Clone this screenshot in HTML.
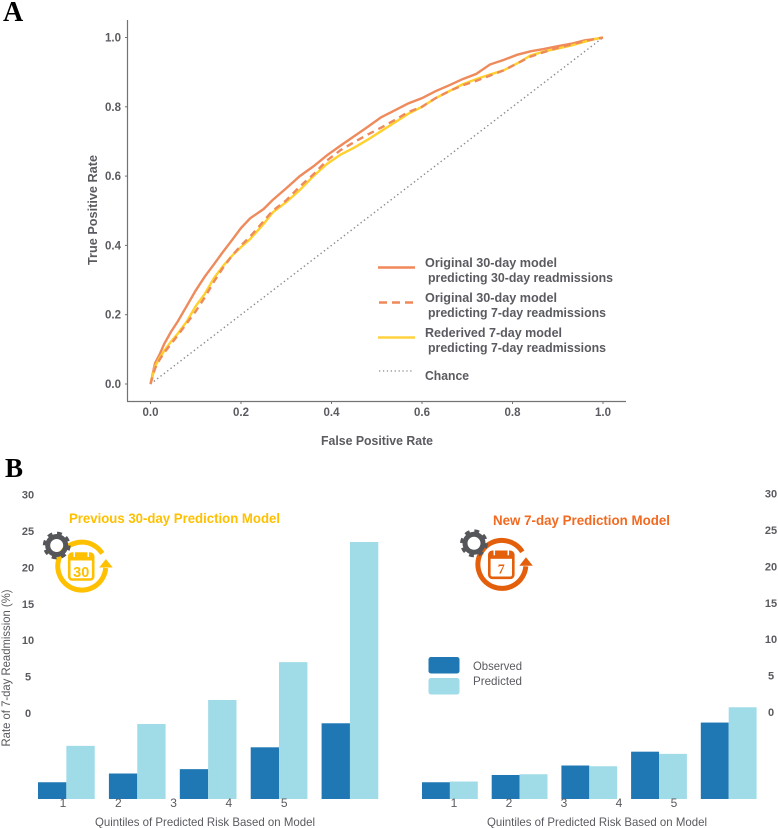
<!DOCTYPE html>
<html lang="en">
<head>
<meta charset="utf-8">
<title>ROC curves and calibration by risk quintile</title>
<style>
html,body{margin:0;padding:0;background:#fff;width:778px;height:828px;overflow:hidden}
svg{display:block}
text{font-family:"Liberation Sans",sans-serif;fill:#5a5a60}
.panel{font-family:"Liberation Serif",serif;font-weight:bold;fill:#000}
.ax{font-weight:bold;font-size:12.5px}
.leg{font-weight:bold;font-size:13px}
.tick{font-weight:bold;font-size:11.5px}
.bt{font-size:11px;font-weight:bold}
</style>
</head>
<body>
<svg id="fig" xmlns="http://www.w3.org/2000/svg" width="778" height="828" viewBox="0 0 778 828">
  <text class="panel" x="3" y="21" font-size="28">A</text>
  <text class="panel" x="5" y="477" font-size="27">B</text>

  <g id="roc">
    <line x1="127.5" y1="20" x2="127.5" y2="401.5" stroke="#737373" stroke-width="1.2"/>
    <line x1="127" y1="401.5" x2="626" y2="401.5" stroke="#737373" stroke-width="1.2"/>
  </g>
  <text class="ax" transform="translate(97,210) rotate(-90)" text-anchor="middle" textLength="110" lengthAdjust="spacingAndGlyphs">True Positive Rate</text>
  <text class="ax" x="321" y="445" textLength="112" lengthAdjust="spacingAndGlyphs">False Positive Rate</text>

  <g>
    <line x1="378" y1="267.5" x2="415" y2="267.5" stroke="#f0885a" stroke-width="2.6"/>
    <text class="leg"><tspan x="425" y="267" textLength="132" lengthAdjust="spacingAndGlyphs">Original 30-day model</tspan><tspan x="428" y="282" textLength="185" lengthAdjust="spacingAndGlyphs">predicting 30-day readmissions</tspan></text>
    <line x1="379" y1="302.5" x2="413" y2="302.5" stroke="#f0885a" stroke-width="2.6" stroke-dasharray="8 5"/>
    <text class="leg"><tspan x="425" y="302" textLength="132" lengthAdjust="spacingAndGlyphs">Original 30-day model</tspan><tspan x="428" y="317" textLength="178" lengthAdjust="spacingAndGlyphs">predicting 7-day readmissions</tspan></text>
    <line x1="378" y1="337.5" x2="415" y2="337.5" stroke="#ffd23f" stroke-width="2.6"/>
    <text class="leg"><tspan x="425" y="337" textLength="137" lengthAdjust="spacingAndGlyphs">Rederived 7-day model</tspan><tspan x="428" y="352" textLength="178" lengthAdjust="spacingAndGlyphs">predicting 7-day readmissions</tspan></text>
    <line x1="379" y1="371" x2="414" y2="371" stroke="#8a8a8a" stroke-width="1.3" stroke-dasharray="1.3 2.6"/>
    <text class="leg" x="425" y="380" textLength="44" lengthAdjust="spacingAndGlyphs">Chance</text>
  </g>

  <g id="bars"></g>

  <text class="ax" transform="translate(10,668) rotate(-90)" text-anchor="middle" font-weight="normal" style="font-weight:normal;font-size:12px" textLength="157" lengthAdjust="spacingAndGlyphs">Rate of 7-day Readmission (%)</text>
  <text x="95" y="826" font-size="12" textLength="220" lengthAdjust="spacingAndGlyphs">Quintiles of Predicted Risk Based on Model</text>
  <text x="487" y="826" font-size="12" textLength="220" lengthAdjust="spacingAndGlyphs">Quintiles of Predicted Risk Based on Model</text>

  <text x="69" y="523" font-size="14" font-weight="bold" style="fill:#ffc000" textLength="211" lengthAdjust="spacingAndGlyphs">Previous 30-day Prediction Model</text>
  <text x="493" y="525" font-size="14" font-weight="bold" style="fill:#f26a21" textLength="177" lengthAdjust="spacingAndGlyphs">New 7-day Prediction Model</text>

  <g>
    <rect x="428.5" y="657" width="31" height="16.5" rx="2.5" fill="#1f77b4"/>
    <text x="473" y="670" font-size="12" textLength="49" lengthAdjust="spacingAndGlyphs">Observed</text>
    <rect x="428.5" y="678" width="31" height="16.5" rx="2.5" fill="#a0dbe8"/>
    <text x="473" y="685" font-size="12" textLength="49" lengthAdjust="spacingAndGlyphs">Predicted</text>
  </g>

  <g transform="translate(80.7,565)">
    <path d="M25 3 A24 24 0 1 1 21.5 -11.5" fill="none" stroke="#ffc000" stroke-width="5"/>
    <polygon points="18.5,2.5 32,2.5 25.2,-6" fill="#ffc000"/>
    <rect x="-11.5" y="-11.5" width="24" height="26" rx="3" fill="#fff" stroke="#ffc000" stroke-width="2.6"/>
    <rect x="-11.5" y="-11.5" width="24" height="7" fill="#ffc000"/>
    <line x1="-6.5" y1="-14" x2="-6.5" y2="-8" stroke="#fff" stroke-width="1.5"/>
    <line x1="7.5" y1="-14" x2="7.5" y2="-8" stroke="#fff" stroke-width="1.5"/>
    <text x="0.5" y="12" text-anchor="middle" font-size="14.5" font-weight="bold" style="fill:#ffc000">30</text>
    <g transform="translate(-24,-19.5)">
      <circle r="9" fill="none" stroke="#55565a" stroke-width="5"/>
      <circle r="12.2" fill="none" stroke="#55565a" stroke-width="3.4" stroke-dasharray="4.8 4.78"/>
    </g>
  </g>
  <g transform="translate(500.8,563.3)">
    <path d="M25 3 A24 24 0 1 1 21.5 -11.5" fill="none" stroke="#e35f0b" stroke-width="5"/>
    <polygon points="18.5,2.5 32,2.5 25.2,-6" fill="#e35f0b"/>
    <rect x="-11.5" y="-11.5" width="24" height="26" rx="3" fill="#fff" stroke="#e35f0b" stroke-width="2.6"/>
    <rect x="-11.5" y="-11.5" width="24" height="7" fill="#e35f0b"/>
    <line x1="-6.5" y1="-14" x2="-6.5" y2="-8" stroke="#fff" stroke-width="1.5"/>
    <line x1="7.5" y1="-14" x2="7.5" y2="-8" stroke="#fff" stroke-width="1.5"/>
    <text x="0.5" y="10" text-anchor="middle" font-size="14" font-weight="bold" style="fill:#e35f0b;font-family:'Liberation Serif',serif">7</text>
    <g transform="translate(-26.8,-20)">
      <circle r="9" fill="none" stroke="#55565a" stroke-width="5"/>
      <circle r="12.2" fill="none" stroke="#55565a" stroke-width="3.4" stroke-dasharray="4.8 4.78"/>
    </g>
  </g>
</svg>

<script>
const rocTicks = ["0.0", "0.2", "0.4", "0.6", "0.8", "1.0"];
const fpr = [0,.01,.02,.03,.045,.06,.08,.1,.12,.14,.16,.18,.2,.22,.25,.27,.3,.33,.36,.39,.42,.45,.48,.51,.54,.57,.6,.63,.66,.69,.72,.75,.78,.81,.84,.87,.9,.93,.96,.98,1];
const tprOriginal30 = [0,.06,.085,.115,.15,.18,.225,.27,.31,.345,.381,.415,.45,.478,.505,.531,.565,.6,.628,.66,.688,.715,.742,.77,.79,.81,.825,.845,.862,.88,.895,.922,.935,.95,.96,.967,.975,.982,.992,.995,1];
const tprOriginal7 = [0,.045,.07,.09,.115,.14,.175,.21,.25,.295,.335,.37,.4,.425,.47,.5,.53,.57,.605,.645,.675,.698,.72,.74,.762,.785,.8,.825,.845,.862,.875,.89,.905,.925,.945,.958,.97,.98,.99,.995,1];
const tprRederived7 = [0,.05,.075,.095,.122,.145,.18,.225,.26,.305,.34,.37,.395,.418,.462,.495,.525,.56,.6,.635,.662,.682,.705,.73,.755,.78,.8,.825,.845,.865,.88,.893,.905,.925,.948,.96,.968,.977,.988,.995,1];
const chanceX = [0, 1];
const chanceY = [0, 1];

const quintileLabels = ["1", "2", "3", "4", "5"];
const rateTicks = ["30", "25", "20", "15", "10", "5", "0"];
const leftObserved = [2.3, 3.5, 4.1, 7.1, 10.4];
const leftPredicted = [7.3, 10.3, 13.6, 18.8, 35.3];
const rightObserved = [2.3, 3.3, 4.6, 6.5, 10.5];
const rightPredicted = [2.4, 3.4, 4.5, 6.2, 12.6];

const NS = 'http://www.w3.org/2000/svg';
const rocX = v => 150.5 + v * 452.5;
const rocY = v => 384 - v * 346.5;
const barH = v => v * 7.28;
const rateY = v => 713 - v * 7.28;
const BASE = 799;

function make(tag, parent) {
  const el = document.createElementNS(NS, tag);
  parent.appendChild(el);
  return el;
}

const roc = document.getElementById('roc');
rocTicks.forEach(t => {
  const v = parseFloat(t);
  const tx = make('line', roc);
  
  
  tx.setAttribute('x1', rocX(v)); tx.setAttribute('x2', rocX(v));
  tx.setAttribute('y1', 401.5); tx.setAttribute('y2', 404);
  tx.setAttribute('stroke', '#737373');
  const lx = make('text', roc);
  
  
  lx.setAttribute('class', 'tick');
  lx.setAttribute('x', rocX(v)); lx.setAttribute('y', 416);
  lx.setAttribute('text-anchor', 'middle');
  lx.textContent = t;
  const ty = make('line', roc);
  
  
  ty.setAttribute('x1', 125); ty.setAttribute('x2', 127.5);
  ty.setAttribute('y1', rocY(v)); ty.setAttribute('y2', rocY(v));
  ty.setAttribute('stroke', '#737373');
  const ly = make('text', roc);
  
  
  ly.setAttribute('class', 'tick');
  ly.setAttribute('x', 121); ly.setAttribute('y', rocY(v) + 4);
  ly.setAttribute('text-anchor', 'end');
  ly.textContent = t;
});

function pathOf(xs, ys) {
  return xs.map((x, i) => (i ? 'L' : 'M') + rocX(x).toFixed(2) + ' ' + rocY(ys[i]).toFixed(2)).join(' ');
}

const chance = make('path', roc);


chance.setAttribute('d', pathOf(chanceX, chanceY));
chance.setAttribute('fill', 'none');
chance.setAttribute('stroke', '#8a8a8a');
chance.setAttribute('stroke-width', '1.4');
chance.setAttribute('stroke-dasharray', '1.4 2.8');

const line30 = make('path', roc);


line30.setAttribute('d', pathOf(fpr, tprOriginal30));
line30.setAttribute('fill', 'none');
line30.setAttribute('stroke', '#ee8a5b');
line30.setAttribute('stroke-width', '2.4');

const lineRed = make('path', roc);


lineRed.setAttribute('d', pathOf(fpr, tprRederived7));
lineRed.setAttribute('fill', 'none');
lineRed.setAttribute('stroke', '#ffd02e');
lineRed.setAttribute('stroke-width', '2.4');

const line7 = make('path', roc);


line7.setAttribute('d', pathOf(fpr, tprOriginal7));
line7.setAttribute('fill', 'none');
line7.setAttribute('stroke', '#ee8a5b');
line7.setAttribute('stroke-width', '2.4');
line7.setAttribute('stroke-dasharray', '7 5');

const bars = document.getElementById('bars');

function drawGroup(observed, predicted, startX, pitch, barW, labelStart, labelPitch, side) {
  quintileLabels.forEach((q, i) => {
    const x0 = startX + i * pitch;
    const ob = make('rect', bars);
    
    
    ob.setAttribute('x', x0);
    ob.setAttribute('width', barW);
    ob.setAttribute('y', BASE - barH(observed[i]));
    ob.setAttribute('height', barH(observed[i]));
    ob.setAttribute('fill', '#1f77b4');
    const pr = make('rect', bars);
    
    
    pr.setAttribute('x', x0 + barW);
    pr.setAttribute('width', barW);
    pr.setAttribute('y', BASE - barH(predicted[i]));
    pr.setAttribute('height', barH(predicted[i]));
    pr.setAttribute('fill', '#a0dbe8');
    const lab = make('text', bars);
    
    
    lab.setAttribute('class', 'bt');
    lab.setAttribute('style', 'font-weight:normal;font-size:12px');
    lab.setAttribute('x', labelStart + i * labelPitch);
    lab.setAttribute('y', 807);
    lab.setAttribute('text-anchor', 'middle');
    lab.textContent = q;
  });
}

drawGroup(leftObserved, leftPredicted, 38, 70.9, 28.35, 63, 55.3, 'left');
drawGroup(rightObserved, rightPredicted, 422, 69.7, 27.9, 454, 55, 'right');

rateTicks.forEach(t => {
  const v = parseFloat(t);
  const a = make('text', bars);
  
  
  a.setAttribute('class', 'bt');
  a.setAttribute('x', 28);
  a.setAttribute('y', rateY(v) + 4);
  a.setAttribute('text-anchor', 'middle');
  a.textContent = t;
  const b = make('text', bars);
  
  
  b.setAttribute('class', 'bt');
  b.setAttribute('x', 771);
  b.setAttribute('y', rateY(v) + 3);
  b.setAttribute('text-anchor', 'middle');
  b.textContent = t;
});
</script>
</body>
</html>
